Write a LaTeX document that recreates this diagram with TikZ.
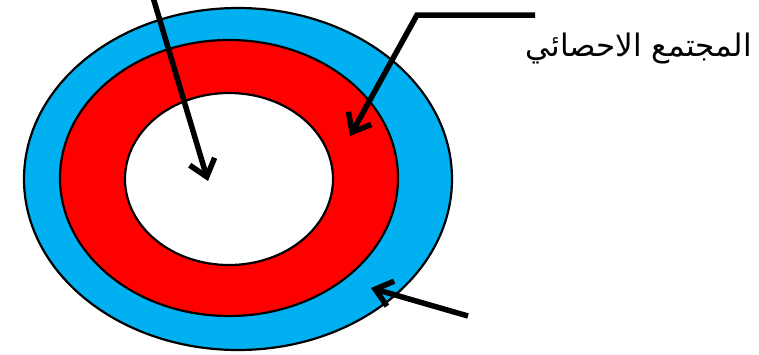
\documentclass[tikz,border=0pt]{standalone}
\usepackage{fontspec}
\usepackage{xcolor}
\usetikzlibrary{arrows.meta}
\TeXXeTstate=1
\newfontfamily\arabicfont[Script=Arabic]{DejaVu Sans}
\definecolor{ringblue}{HTML}{00B0F0}
\definecolor{ringred}{HTML}{FF0000}

\begin{document}
\begin{tikzpicture}[
  x=1pt, y=-1pt,
  ring/.style={draw=black,line width=2.2pt},
  pointer/.style={line width=5.5pt,-{Straight Barb[length=16pt,width=26pt,line width=5.5pt]}},
  poplabel/.style={font=\arabicfont\fontsize{31}{36}\selectfont,inner sep=0pt}
]
\useasboundingbox (0,0) rectangle (759,354);
% rings
\fill[ring,fill=ringblue] (238,179) ellipse [x radius=214,y radius=171];
\fill[ring,fill=ringred] (229,178) ellipse [x radius=169,y radius=138];
\fill[ring,fill=white] (229,179) ellipse [x radius=104,y radius=86];
% label
\node[poplabel,anchor=east] (pop) at (752,49) {\beginR المجتمع الاحصائي\endR};
% pointers
\coordinate (intop) at (152,-6);
\coordinate (intip) at (208,181);
\coordinate (redtail) at (535,15);
\coordinate (redbend) at (417,15);
\coordinate (redtip) at (350,136);
\coordinate (bluetail) at (468,316);
\coordinate (bluetip) at (371,288);
\draw[pointer] (intop) -- (intip);
\draw[pointer,line join=miter] (redtail) -- (redbend) -- (redtip);
\draw[pointer] (bluetail) -- (bluetip);
\end{tikzpicture}
\end{document}
